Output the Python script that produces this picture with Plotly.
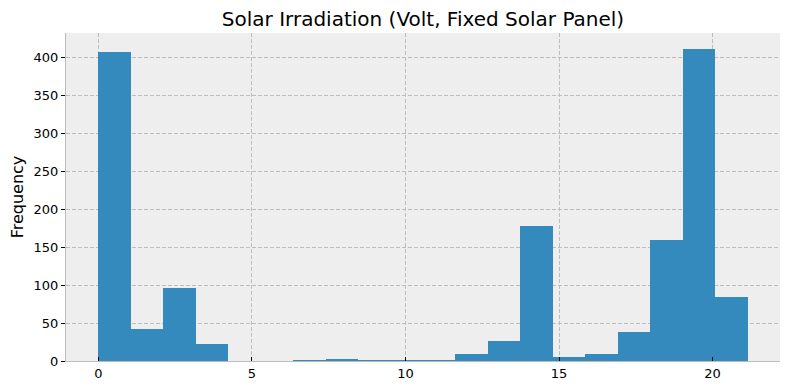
import numpy as np
import plotly.graph_objects as go

# Histogram data (20 equal bins)
bin_start = 0.0
bin_end = 21.14
counts = [407, 42, 96, 22, 0, 0, 1, 2, 1, 1, 1, 9, 27, 178, 5, 9, 38, 160, 412, 84]
x_ticks = [0, 5, 10, 15, 20]
y_ticks = [0, 50, 100, 150, 200, 250, 300, 350, 400]

edges = np.linspace(bin_start, bin_end, len(counts) + 1)
centers = (edges[:-1] + edges[1:]) / 2
width = edges[1] - edges[0]

fig = go.Figure(go.Bar(x=centers, y=counts, width=width,
                       marker=dict(color="#348ABD", line=dict(width=0))))

span = bin_end - bin_start
# page body has an 8px margin, so the figure is sized to fill the rest of the window
fig.update_layout(
    width=782, height=382,
    margin=dict(l=58, r=10, t=25, b=29, autoexpand=False),
    paper_bgcolor="white", plot_bgcolor="#EEEEEE",
    font=dict(family="DejaVu Sans", color="black"),
    title=dict(text="Solar Irradiation (Volt, Fixed Solar Panel)", xref="paper", x=0.5,
               xanchor="center", y=0.971, yanchor="middle", font=dict(size=20, color="black")),
    showlegend=False,
    bargap=0,
)
grid = dict(showgrid=True, gridcolor="#bdbdbd", griddash="4px,2px", gridwidth=0.7)
fig.update_xaxes(range=[bin_start - 0.05 * span, bin_end + 0.05 * span], automargin=False,
                 tickvals=x_ticks, ticks="inside", ticklen=4, tickcolor="black",
                 zeroline=False, showline=True, linecolor="#bcbcbc", linewidth=1,
                 tickfont=dict(size=13), **grid)
fig.update_yaxes(range=[0, max(counts) * 1.05], tickvals=y_ticks, ticks="outside", ticklen=4,
                 tickcolor="black", automargin=False,
                 zeroline=False, showline=True, linecolor="#bcbcbc", linewidth=1,
                 tickfont=dict(size=13), **grid,
                 title=dict(text="Frequency", font=dict(size=16), standoff=6))

fig.write_html("out.html")
